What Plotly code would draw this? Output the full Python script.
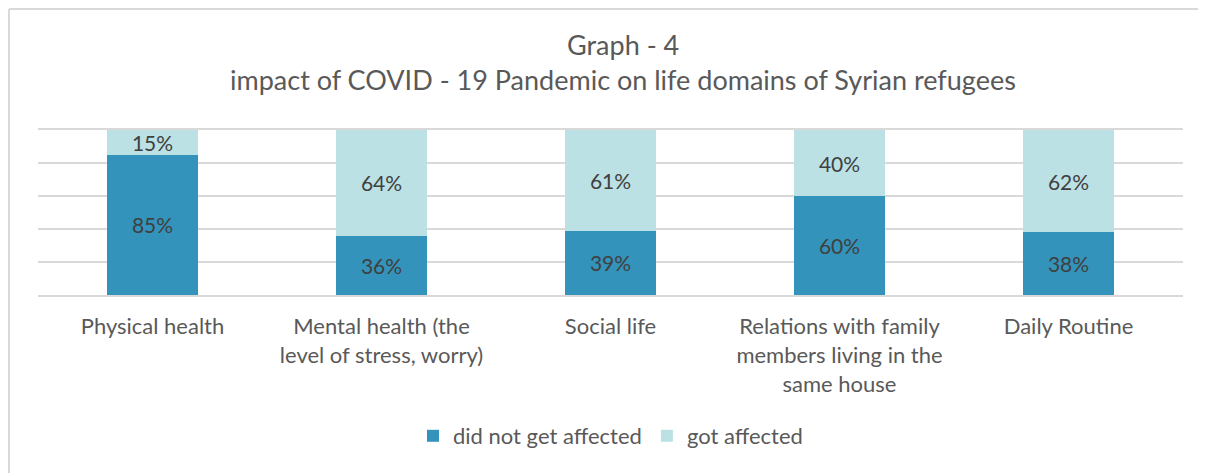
import plotly.graph_objects as go

categories = [
    "Physical health",
    "Mental health (the<br>level of stress, worry)",
    "Social life",
    "Relations with family<br>members living in the<br>same house",
    "Daily Routine",
]
not_affected = [85, 36, 39, 60, 38]
affected = [15, 64, 61, 40, 62]

FONT = "Lato"
GRAY = "#595959"

# page body has an 8px margin, so the figure is drawn 8px smaller
W, H = 1198, 465
L, R, T, B = 30, 23, 122, 178
PW = W - L - R
PH = H - T - B

fig = go.Figure()
fig.add_trace(go.Bar(
    x=categories, y=not_affected, name="did not get affected",
    marker=dict(color="#3393BA", line=dict(width=0)),
    text=[f"{v}%" for v in not_affected], textposition="inside",
    insidetextanchor="middle", textangle=0, constraintext="none",
    textfont=dict(family=FONT, size=21, color="#404040"),
))
fig.add_trace(go.Bar(
    x=categories, y=affected, name="got affected",
    marker=dict(color="#BCE1E5", line=dict(width=0)),
    text=[f"{v}%" for v in affected], textposition="inside",
    insidetextanchor="middle", textangle=0, constraintext="none",
    textfont=dict(family=FONT, size=21, color="#404040"),
))

fig.update_layout(
    barmode="stack",
    bargap=0.6,
    width=W, height=H,
    margin=dict(l=L, r=R, t=T, b=B),
    paper_bgcolor="white", plot_bgcolor="white",
    font=dict(family=FONT, size=22, color=GRAY),
    showlegend=True,
    legend=dict(orientation="h", x=0.5, xanchor="center", y=-(436 - 295) / PH, yanchor="middle",
                font=dict(family=FONT, size=22, color=GRAY), traceorder="normal",
                itemwidth=30),
)
fig.update_yaxes(range=[0, 100], dtick=20, showticklabels=False, showgrid=True,
                 gridcolor="#D9D9D9", gridwidth=2, zeroline=False, fixedrange=True)
fig.update_xaxes(showline=True, mirror=True, linecolor="#D9D9D9", linewidth=2, ticks="",
                 tickfont=dict(family=FONT, size=22, color=GRAY), ticklabelstandoff=11)

title_x = 0.5 + 12 / PW
fig.add_annotation(text="Graph - 4", xref="paper", yref="paper", x=title_x, y=1 + (130 - 44) / PH,
                   showarrow=False, font=dict(family=FONT, size=27, color=GRAY), yanchor="middle")
fig.add_annotation(text="impact of COVID - 19 Pandemic on life domains of Syrian refugees",
                   xref="paper", yref="paper", x=title_x, y=1 + (130 - 79) / PH,
                   showarrow=False, font=dict(family=FONT, size=27, color=GRAY), yanchor="middle")

# chart frame: only the top and left edges are inside the picture
bx = (1 - L) / PW
by = 1 + (T - 1) / PH
fig.add_shape(type="line", xref="paper", yref="paper", x0=bx, x1=1.1, y0=by, y1=by,
              line=dict(color="#D9D9D9", width=2), layer="below")
fig.add_shape(type="line", xref="paper", yref="paper", x0=bx, x1=bx, y0=-1.5, y1=by,
              line=dict(color="#D9D9D9", width=2), layer="below")

fig.write_html("out.html")
